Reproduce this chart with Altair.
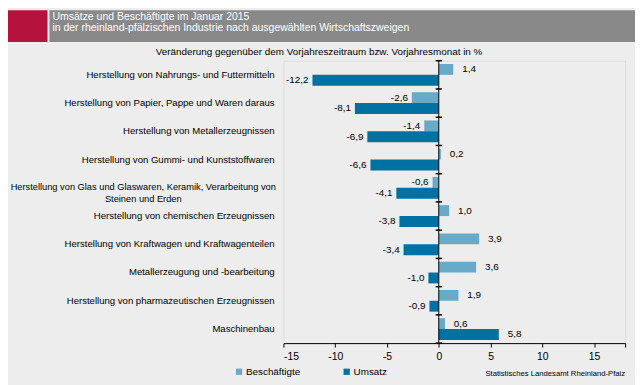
import altair as alt
import pandas as pd

categories = [
    "Herstellung von Nahrungs- und Futtermitteln",
    "Herstellung von Papier, Pappe und Waren daraus",
    "Herstellung von Metallerzeugnissen",
    "Herstellung von Gummi- und Kunststoffwaren",
    "Herstellung von Glas und Glaswaren, Keramik, Verarbeitung von\nSteinen und Erden",
    "Herstellung von chemischen Erzeugnissen",
    "Herstellung von Kraftwagen und Kraftwagenteilen",
    "Metallerzeugung und -bearbeitung",
    "Herstellung von pharmazeutischen Erzeugnissen",
    "Maschinenbau",
]
beschaeftigte = [1.4, -2.6, -1.4, 0.2, -0.6, 1.0, 3.9, 3.6, 1.9, 0.6]
umsatz = [-12.2, -8.1, -6.9, -6.6, -4.1, -3.8, -3.4, -1.0, -0.9, 5.8]
series = ["Beschäftigte", "Umsatz"]
colors = ["#68aac8", "#0071a3"]
x_ticks = [-15, -10, -5, 0, 5, 10, 15, 18]

rows = []
for c, b, u in zip(categories, beschaeftigte, umsatz):
    rows.append({"cat": c, "series": series[0], "value": b})
    rows.append({"cat": c, "series": series[1], "value": u})
df = pd.DataFrame(rows)
df["label"] = df["value"].map(lambda v: f"{v:.1f}".replace(".", ","))

cat_df = pd.DataFrame({"cat": categories})
bounds = pd.DataFrame({"b": list(range(len(categories) + 1))})
one = pd.DataFrame({"k": [0]})

FONT = "Liberation Sans"

xscale = alt.Scale(domain=[-15, 18], nice=False, zero=False)
yscale = alt.Scale(paddingInner=0.23, paddingOuter=0.115)

glas_test = "indexof(datum.cat, 'Glas') >= 0"

y_enc = alt.Y("cat:N", sort=categories, scale=yscale, title=None, axis=None)

x_enc = alt.X(
    "value:Q",
    scale=xscale,
    title=None,
    axis=alt.Axis(
        values=x_ticks,
        grid=False,
        domainColor="#000000",
        tickColor="#000000",
        tickSize=4,
        labelFont=FONT,
        labelFontSize=10.5,
        labelColor="#000000",
        labelPadding=5,
        labelExpr="datum.value == 18 ? '' : toString(datum.value)",
    ),
)

base = alt.Chart(df)

bars = base.mark_bar().encode(
    x=x_enc,
    y=y_enc,
    yOffset=alt.YOffset("series:N", sort=series),
    color=alt.Color(
        "series:N",
        sort=series,
        scale=alt.Scale(domain=series, range=colors),
        legend=alt.Legend(
            title=None,
            orient="none",
            direction="horizontal",
            legendX=-50,
            legendY=310,
            symbolType="square",
            symbolSize=40,
            symbolStrokeWidth=0,
            labelFont=FONT,
            labelFontSize=10,
            labelColor="#000000",
            labelOffset=2,
            columnPadding=41,
        ),
    ),
)

pos_labels = base.transform_filter("datum.value >= 0").mark_text(
    align="left", baseline="middle", dx=9, font=FONT, fontSize=10, color="#000000"
).encode(
    x=alt.X("value:Q", scale=xscale),
    y=y_enc,
    yOffset=alt.YOffset("series:N", sort=series),
    text="label:N",
)

neg_labels = base.transform_filter("datum.value < 0").mark_text(
    align="right", baseline="middle", dx=-4, font=FONT, fontSize=10, color="#000000"
).encode(
    x=alt.X("value:Q", scale=xscale),
    y=y_enc,
    yOffset=alt.YOffset("series:N", sort=series),
    text="label:N",
)

cat_labels = alt.Chart(cat_df).transform_filter("!(" + glas_test + ")").mark_text(
    align="right", baseline="middle", font=FONT, fontSize=9.7, color="#000000"
).encode(x=alt.value(-9), y=y_enc, text="cat:N")

glas_label = alt.Chart(cat_df).transform_filter(glas_test).mark_text(
    align="center", baseline="middle", font=FONT, fontSize=9.4, color="#000000",
    lineBreak="\n", lineHeight=12, dy=-1,
).encode(x=alt.value(-142), y=y_enc, text="cat:N")

zero_line = alt.Chart(one).mark_rule(color="#000000", strokeWidth=1).encode(
    x=alt.datum(0, scale=xscale)
)

inner = alt.layer(bars, pos_labels, neg_labels, cat_labels, glas_label, zero_line)

ticks = alt.Chart(bounds).mark_rule(color="#000000", strokeWidth=1.5).encode(
    x=alt.datum(-0.3),
    x2=alt.datum(0.3),
    y=alt.Y("b:Q", scale=alt.Scale(domain=[0, len(categories)], reverse=True, nice=False), axis=None),
)

header_red = alt.Chart(one).mark_rect(color="#b5123d").encode(
    x=alt.value(-279), x2=alt.value(-239), y=alt.value(-51), y2=alt.value(-19)
)
header_grey = alt.Chart(one).mark_rect(color="#89898a").encode(
    x=alt.value(-237), x2=alt.value(356), y=alt.value(-51), y2=alt.value(-19)
)
title1 = alt.Chart(one).mark_text(
    text="Umsätze und Beschäftigte im Januar 2015", align="left", baseline="middle",
    font=FONT, fontSize=10.6, color="#ffffff"
).encode(x=alt.value(-234), y=alt.value(-44))
title2 = alt.Chart(one).mark_text(
    text="in der rheinland-pfälzischen Industrie nach ausgewählten Wirtschaftszweigen",
    align="left", baseline="middle", font=FONT, fontSize=10.6, color="#ffffff"
).encode(x=alt.value(-234), y=alt.value(-33))
subtitle = alt.Chart(one).mark_text(
    text="Veränderung gegenüber dem Vorjahreszeitraum bzw. Vorjahresmonat in %",
    align="center", baseline="middle", font=FONT, fontSize=10, color="#000000"
).encode(x=alt.value(36), y=alt.value(-9))
source = alt.Chart(one).mark_text(
    text="Statistisches Landesamt Rheinland-Pfalz",
    align="right", baseline="middle", font=FONT, fontSize=7.8, color="#000000"
).encode(x=alt.value(346), y=alt.value(317))

chart = alt.layer(
    header_red, header_grey, title1, title2, subtitle, source, inner, ticks
).resolve_scale(y="independent").properties(
    width=346,
    height=286,
    autosize=alt.AutoSizeParams(type="none"),
    padding={"left": 279, "top": 51, "right": 10, "bottom": 40},
    background="#ecedec",
).configure_view(stroke=None).configure(font=FONT)

chart.save("out.html", embed_options={"renderer": "svg", "actions": False})
